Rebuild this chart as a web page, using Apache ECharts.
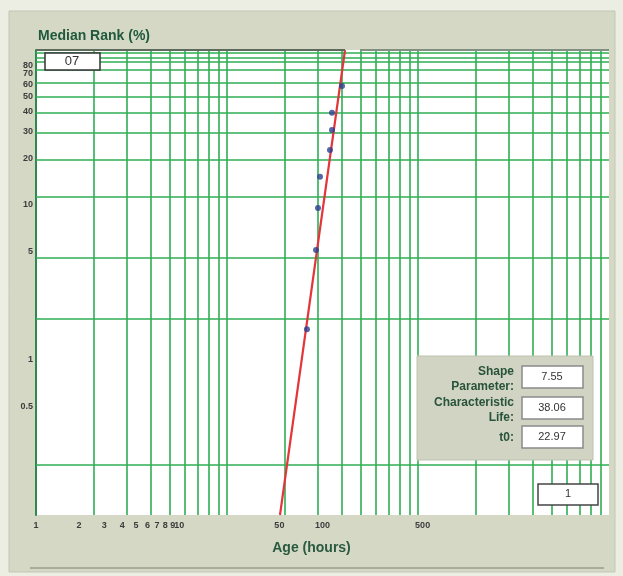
<!DOCTYPE html>
<html><head><meta charset="utf-8">
<script src="https://cdn.jsdelivr.net/npm/echarts@6/dist/echarts.min.js"></script>
<style>html,body{margin:0;padding:0;background:#eceee4;} #c{width:623px;height:576px;}</style>
</head><body><div id="c"></div>
<script>
// ---- data ----
const ages  = [77.9, 90.1, 93.0, 96.1, 112.8, 116.5, 116.5, 136.8];   // Age (hours)
const ranks = [1.58, 5.13, 9.57, 15.2, 22.6, 30.5, 39.3, 58.6];      // Median Rank (%)
const fitAges  = [50.5, 143.6];
const fitRanks = [0.1, 100];
const xTickLabels = [1, 2, 3, 4, 5, 6, 7, 8, 9, 10, 50, 100, 500];
const yTickLabels = [0.5, 1, 5, 10, 20, 30, 40, 50, 60, 70, 80, 90];
const xGridValues = [2, 3, 4, 5, 6, 7, 8, 9, 10, 20, 30, 40, 50, 60, 70, 80, 90, 100,
                     200, 300, 400, 500, 600, 700, 800, 900];
const yGridValues = [0.213, 1.84, 4.55, 11.3, 19.5, 29.2, 39.3, 49.7, 61.2, 74.3, 83.7, 88.8, 95.6];
const paramNames  = ['Shape\nParameter:', 'Characteristic\nLife:', 't0:'];
const paramValues = ['7.55', '38.06', '22.97'];
const topBoxText = '07';
const bottomBoxText = '1';
const titleText = 'Median Rank (%)';
const xTitle = 'Age (hours)';

const chart = echarts.init(document.getElementById('c'), null, {renderer: 'canvas'});
const GREEN = '#2fae52';
const FONT = 'Liberation Sans, Arial, sans-serif';

const graphics = [
  {type: 'rect', shape: {x: 9, y: 11, width: 606, height: 561}, style: {fill: '#d6d8c6', stroke: '#c4c6b4', lineWidth: 1}, z: -10},
  {type: 'text', left: 38, top: 29, style: {text: titleText, fill: '#1f5a3c', font: 'bold 14px ' + FONT}},
  {type: 'line', shape: {x1: 36, y1: 50, x2: 345, y2: 50}, style: {stroke: '#5d6b5d', lineWidth: 2}, z: 20},
  {type: 'line', shape: {x1: 360, y1: 50, x2: 609, y2: 50}, style: {stroke: '#7f8f80', lineWidth: 2}, z: 20},
  {type: 'line', shape: {x1: 30, y1: 568, x2: 604, y2: 568}, style: {stroke: '#9a9c8c', lineWidth: 1.5}},
  {type: 'text', left: 'center', top: 541, style: {text: xTitle, fill: '#2a5a40', font: 'bold 14px ' + FONT}},
  // top-left box
  {type: 'rect', shape: {x: 45, y: 53, width: 55, height: 17}, style: {fill: '#ffffff', stroke: '#333', lineWidth: 1.5}, z: 30},
  {type: 'text', x: 72, y: 55, style: {text: topBoxText, fill: '#333', font: '13px ' + FONT, align: 'center'}, z: 31},
  // bottom-right box
  {type: 'rect', shape: {x: 538, y: 484, width: 60, height: 21}, style: {fill: '#ffffff', stroke: '#444', lineWidth: 1.5}, z: 30},
  {type: 'text', x: 568, y: 488, style: {text: bottomBoxText, fill: '#333', font: '11px ' + FONT, align: 'center'}, z: 31},
  // parameter panel
  {type: 'rect', shape: {x: 417, y: 356, width: 176, height: 104}, style: {fill: '#d2d4c3', stroke: '#c0c2b0', lineWidth: 1}, z: 30}
];
const rowY = [366, 397, 426];
paramNames.forEach((n, i) => {
  graphics.push({type: 'text', x: 514, y: i === 2 ? rowY[i] + 4 : rowY[i] - 2, style: {text: n, fill: '#27533a', font: 'bold 12px ' + FONT, align: 'right', lineHeight: 15}, z: 31});
  graphics.push({type: 'rect', shape: {x: 522, y: rowY[i], width: 61, height: 22}, style: {fill: '#ffffff', stroke: '#8a8a8a', lineWidth: 1.5}, z: 31});
  graphics.push({type: 'text', x: 552, y: rowY[i] + 5, style: {text: paramValues[i], fill: '#333', font: '11px ' + FONT, align: 'center'}, z: 32});
});

chart.setOption({
  animation: false,
  backgroundColor: 'transparent',
  grid: {left: 36, right: 14, top: 50, bottom: 61, show: true, backgroundColor: '#ffffff', borderWidth: 0},
  xAxis: [
    {type: 'log', logBase: 10, min: 1, max: 10000, position: 'bottom',
     axisLine: {show: false}, axisTick: {show: false}, splitLine: {show: false},
     axisLabel: {customValues: xTickLabels, interval: 0, hideOverlap: false, fontSize: 9, fontWeight: 'bold', color: '#3c3c3c', margin: 6, fontFamily: FONT}},
    {type: 'log', logBase: 10, min: 1, max: 1000, show: false, splitLine: {show: false}}
  ],
  yAxis: [
    {type: 'log', logBase: 10, min: 0.1, max: 100,
     axisLine: {show: true, lineStyle: {color: '#2e8a4c', width: 2}}, axisTick: {show: false}, splitLine: {show: false},
     axisLabel: {customValues: yTickLabels, interval: 0, hideOverlap: false, fontSize: 9, fontWeight: 'bold', color: '#3c3c3c', margin: 3, fontFamily: FONT}}
  ],
  series: [
    {type: 'scatter', name: 'vgrid', xAxisIndex: 1, yAxisIndex: 0, data: [], silent: true,
     markLine: {symbol: 'none', silent: true, animation: false, label: {show: false},
       lineStyle: {color: GREEN, width: 1.6, type: 'solid'},
       data: xGridValues.map(v => ({xAxis: v}))}},
    {type: 'scatter', name: 'hgrid', xAxisIndex: 0, yAxisIndex: 0, data: [], silent: true,
     markLine: {symbol: 'none', silent: true, animation: false, label: {show: false},
       lineStyle: {color: GREEN, width: 1.6, type: 'solid'},
       data: yGridValues.map(v => ({yAxis: v}))}},
    {type: 'line', name: 'fit', xAxisIndex: 0, yAxisIndex: 0, showSymbol: false, z: 5,
     lineStyle: {color: '#e2363a', width: 2.2},
     data: fitAges.map((a, i) => [a, fitRanks[i]])},
    {type: 'scatter', name: 'points', xAxisIndex: 0, yAxisIndex: 0, z: 6, symbolSize: 6,
     itemStyle: {color: '#2c3f8e'},
     data: ages.map((a, i) => [a, ranks[i]])}
  ],
  graphic: graphics
});
</script></body></html>
